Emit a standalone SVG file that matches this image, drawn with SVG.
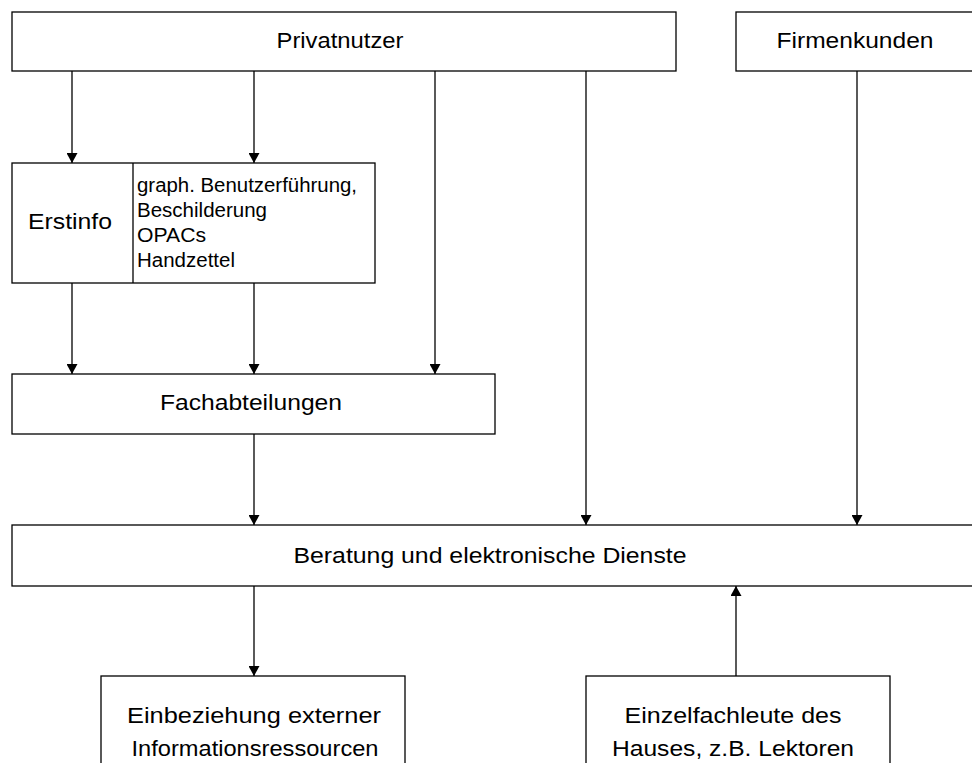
<svg xmlns="http://www.w3.org/2000/svg" width="972" height="763" viewBox="0 0 972 763">
<style>
.box{fill:#fff;stroke:#000;stroke-width:1.3}
.t{font-family:"Liberation Sans",Arial,sans-serif;font-size:22px;fill:#000}
.s{font-family:"Liberation Sans",Arial,sans-serif;font-size:20px;fill:#000}
.c{stroke:#000;stroke-width:1.3;fill:none}
</style>
<defs>
<marker id="ad" markerUnits="userSpaceOnUse" markerWidth="11" markerHeight="11" refX="10" refY="5.5" orient="auto" viewBox="0 0 11 11">
<path d="M0,0 L10,5.5 L0,11 Z" fill="#000"/>
</marker>
</defs>
<rect width="972" height="763" fill="#fff"/>
<g id="privatnutzer"><rect class="box" x="12" y="12" width="664" height="59"/><text class="t" x="340" y="48" text-anchor="middle" textLength="127" lengthAdjust="spacingAndGlyphs">Privatnutzer</text></g>
<g id="firmenkunden"><rect class="box" x="736" y="12" width="250" height="59"/><text class="t" x="855" y="48" text-anchor="middle" textLength="157" lengthAdjust="spacingAndGlyphs">Firmenkunden</text></g>
<g id="erstinfo"><rect class="box" x="12" y="163" width="363" height="120"/><line class="c" x1="133" y1="163" x2="133" y2="283"/><text class="t" x="70" y="229" text-anchor="middle" textLength="84" lengthAdjust="spacingAndGlyphs">Erstinfo</text>
<text class="s" x="137" y="192" textLength="220" lengthAdjust="spacingAndGlyphs">graph. Benutzerführung,</text>
<text class="s" x="137" y="217" textLength="130" lengthAdjust="spacingAndGlyphs">Beschilderung</text>
<text class="s" x="137" y="242" textLength="69" lengthAdjust="spacingAndGlyphs">OPACs</text>
<text class="s" x="137" y="267" textLength="98" lengthAdjust="spacingAndGlyphs">Handzettel</text></g>
<g id="fachabteilungen"><rect class="box" x="12" y="374" width="483" height="60"/><text class="t" x="251" y="410" text-anchor="middle" textLength="182" lengthAdjust="spacingAndGlyphs">Fachabteilungen</text></g>
<g id="beratung"><rect class="box" x="12" y="525" width="975" height="61"/><text class="t" x="490" y="563" text-anchor="middle" textLength="393" lengthAdjust="spacingAndGlyphs">Beratung und elektronische Dienste</text></g>
<g id="extern"><rect class="box" x="101" y="676" width="304" height="100"/><text class="t" x="254" y="723" text-anchor="middle" textLength="254" lengthAdjust="spacingAndGlyphs">Einbeziehung externer</text><text class="t" x="255" y="756" text-anchor="middle" textLength="247" lengthAdjust="spacingAndGlyphs">Informationsressourcen</text></g>
<g id="einzelfachleute"><rect class="box" x="586" y="676" width="304" height="100"/><text class="t" x="733" y="723" text-anchor="middle" textLength="217" lengthAdjust="spacingAndGlyphs">Einzelfachleute des</text><text class="t" x="733" y="756" text-anchor="middle" textLength="242" lengthAdjust="spacingAndGlyphs">Hauses, z.B. Lektoren</text></g>
<g id="connectors">
<line class="c" x1="72" y1="71" x2="72" y2="163" marker-end="url(#ad)"/>
<line class="c" x1="254" y1="71" x2="254" y2="163" marker-end="url(#ad)"/>
<line class="c" x1="435" y1="71" x2="435" y2="374" marker-end="url(#ad)"/>
<line class="c" x1="586" y1="71" x2="586" y2="525" marker-end="url(#ad)"/>
<line class="c" x1="857" y1="71" x2="857" y2="525" marker-end="url(#ad)"/>
<line class="c" x1="72" y1="283" x2="72" y2="374" marker-end="url(#ad)"/>
<line class="c" x1="254" y1="283" x2="254" y2="374" marker-end="url(#ad)"/>
<line class="c" x1="254" y1="434" x2="254" y2="525" marker-end="url(#ad)"/>
<line class="c" x1="254" y1="586" x2="254" y2="676" marker-end="url(#ad)"/>
<line class="c" x1="736" y1="676" x2="736" y2="586" marker-end="url(#ad)"/>
</g>
</svg>
